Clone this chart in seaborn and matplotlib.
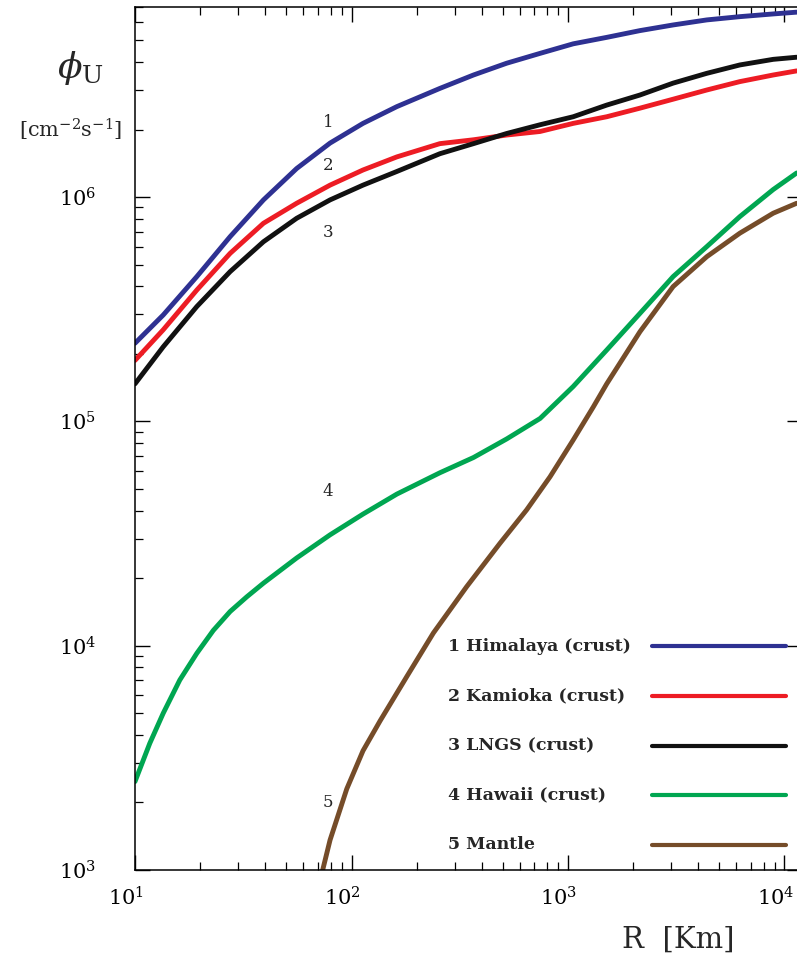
import matplotlib
matplotlib.use("Agg")
import matplotlib.pyplot as plt
import matplotlib.transforms as mtransforms
import seaborn as sns
import pandas as pd

# curve data (R in km, flux in cm^-2 s^-1)
r_crust = [10, 13.5, 19.3, 27.5, 39.2, 55.8, 79.6, 113, 162, 256, 366, 521, 743,
           1057, 1510, 2150, 3060, 4375, 6220, 8870, 11380]
phi_himalaya = [2.23e5, 2.98e5, 4.42e5, 6.66e5, 9.71e5, 1.34e6, 1.74e6, 2.13e6, 2.53e6,
                3.05e6, 3.50e6, 3.95e6, 4.37e6, 4.82e6, 5.15e6, 5.52e6, 5.85e6, 6.16e6,
                6.37e6, 6.55e6, 6.67e6]
phi_kamioka = [1.87e5, 2.56e5, 3.85e5, 5.61e5, 7.64e5, 9.38e5, 1.13e6, 1.32e6, 1.51e6,
               1.73e6, 1.80e6, 1.89e6, 1.96e6, 2.13e6, 2.28e6, 2.49e6, 2.73e6, 3.00e6,
               3.27e6, 3.50e6, 3.65e6]
phi_lngs = [1.47e5, 2.15e5, 3.25e5, 4.65e5, 6.32e5, 8.04e5, 9.71e5, 1.13e6, 1.30e6,
            1.56e6, 1.73e6, 1.92e6, 2.10e6, 2.28e6, 2.57e6, 2.85e6, 3.22e6, 3.56e6,
            3.88e6, 4.11e6, 4.20e6]

r_hawaii = [10, 11.7, 13.5, 16.1, 19.3, 23.0, 27.5, 32.8, 39.2, 55.8, 79.6, 113, 162,
            256, 366, 521, 743, 1057, 1510, 2150, 3060, 4375, 6220, 8870, 11380]
phi_hawaii = [2.48e3, 3.67e3, 5.00e3, 7.03e3, 9.25e3, 1.17e4, 1.42e4, 1.65e4, 1.90e4,
              2.46e4, 3.12e4, 3.86e4, 4.74e4, 5.90e4, 6.90e4, 8.35e4, 1.03e5, 1.43e5,
              2.08e5, 3.03e5, 4.42e5, 6.01e5, 8.18e5, 1.08e6, 1.28e6]

r_mantle = [73.6, 79.6, 95.1, 113, 135.5, 162, 180, 239, 340, 485, 644, 826, 1057,
            1309, 1510, 2150, 3060, 4375, 6220, 8870, 11380]
phi_mantle = [1.0e3, 1.36e3, 2.30e3, 3.40e3, 4.62e3, 6.15e3, 7.28e3, 1.14e4, 1.83e4,
              2.86e4, 4.03e4, 5.66e4, 8.26e4, 1.16e5, 1.47e5, 2.51e5, 3.99e5, 5.42e5,
              6.90e5, 8.47e5, 9.38e5]

labels = ["1 Himalaya (crust)", "2 Kamioka (crust)", "3 LNGS (crust)",
          "4 Hawaii (crust)", "5 Mantle"]
colors = ["#2E3192", "#ED1C24", "#111111", "#00A651", "#754C29"]

series = [(r_crust, phi_himalaya), (r_crust, phi_kamioka), (r_crust, phi_lngs),
          (r_hawaii, phi_hawaii), (r_mantle, phi_mantle)]
df = pd.concat([pd.DataFrame({"R": r, "phi": p, "curve": lab})
                for (r, p), lab in zip(series, labels)], ignore_index=True)

sns.set_theme(style="ticks")
plt.rcParams["font.family"] = ["DejaVu Serif"]
plt.rcParams["mathtext.fontset"] = "dejavuserif"

fig = plt.figure(figsize=(7.97, 9.57), dpi=100)
ax = fig.add_axes([0.1694, 0.0909, 0.8364, 0.9013])

sns.lineplot(data=df, x="R", y="phi", hue="curve", hue_order=labels,
             palette=dict(zip(labels, colors)), estimator=None, sort=True,
             linewidth=3.5, legend=False, ax=ax,
             solid_joinstyle="round", solid_capstyle="round")

ax.set_xscale("log")
ax.set_yscale("log")
ax.set_xlim(10, 1.2e4)
ax.set_ylim(1e3, 7e6)
ax.set_xlabel("")
ax.set_ylabel("")

for s in ax.spines.values():
    s.set_color("black")
    s.set_linewidth(1.1)
ax.tick_params(which="both", direction="in", top=True, right=True, colors="black",
               labelsize=15)
ax.tick_params(which="major", length=11, width=1.0)
ax.tick_params(which="minor", length=6, width=0.9)
ax.yaxis.set_tick_params(which="minor", right=False)
ax.tick_params(axis="y", which="major", pad=28)
ax.tick_params(axis="x", which="major", pad=12)

# x tick labels sit a little left of their ticks in the reference
shift = mtransforms.ScaledTranslation(-9 / 100, 0, fig.dpi_scale_trans)
for lbl in ax.get_xticklabels():
    lbl.set_transform(lbl.get_transform() + shift)

# curve numbers
num_y = [0.867, 0.817, 0.7386, 0.4383, 0.0777]
for i, y in enumerate(num_y):
    ax.text(0.2895, y, str(i + 1), transform=ax.transAxes, fontsize=12,
            ha="center", va="center")

# legend block: text left-aligned, line samples on the right
leg_y = [0.2597, 0.2017, 0.1438, 0.0870, 0.0290]
for lab, col, y in zip(labels, colors, leg_y):
    ax.text(0.4695, y, lab, transform=ax.transAxes, fontsize=12.5,
            fontweight="bold", ha="left", va="center")
    ax.plot([0.7756, 0.9766], [y, y], transform=ax.transAxes, color=col,
            linewidth=3, solid_capstyle="round")

fig.text(80 / 797, 1 - 68 / 957, r"$\phi_{\mathrm{U}}$", fontsize=26,
         ha="center", va="center")
fig.text(71 / 797, 1 - 130 / 957, r"$[\mathrm{cm}^{-2}\mathrm{s}^{-1}]$",
         fontsize=15, ha="center", va="center")
fig.text(678 / 797, 1 - 940 / 957, "R  [Km]", fontsize=21,
         ha="center", va="center")

fig.savefig("out.png", dpi=100)
